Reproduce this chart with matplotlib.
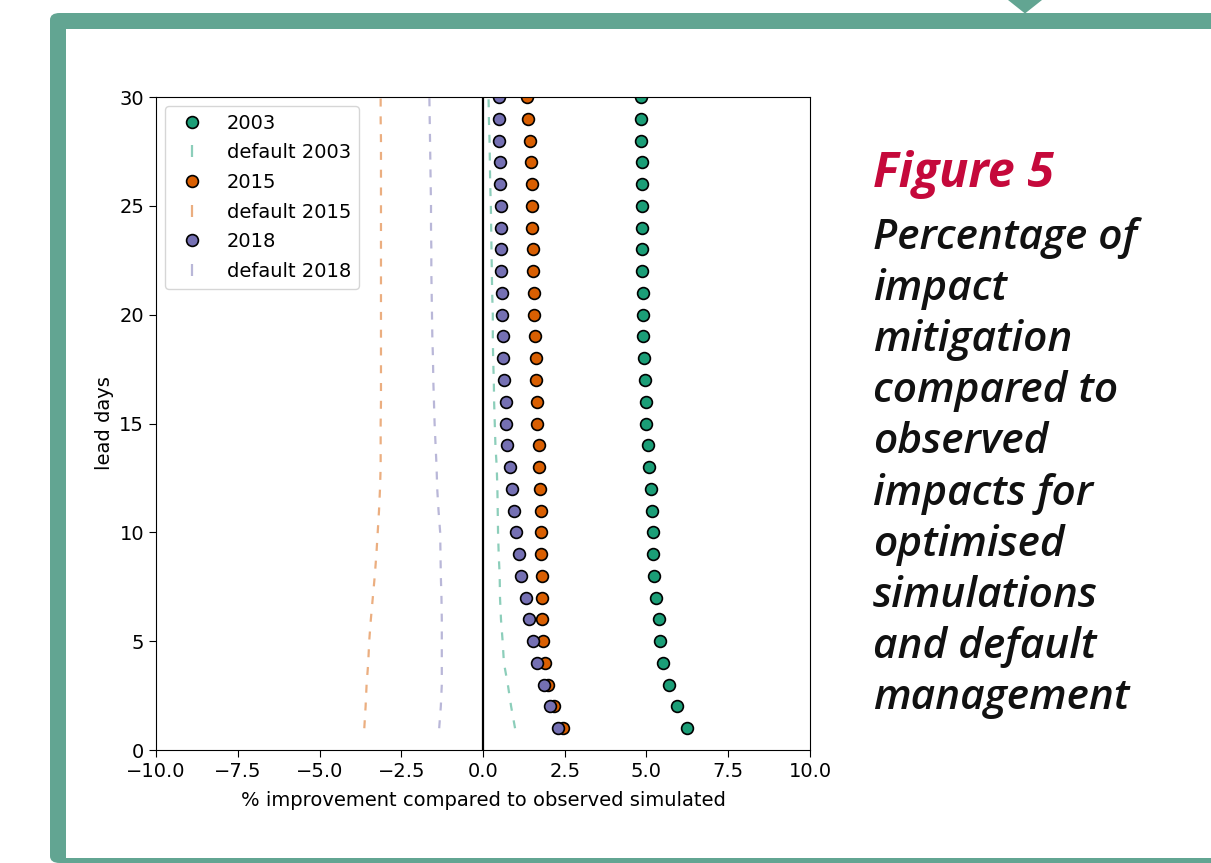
import matplotlib
matplotlib.use("Agg")
import matplotlib.pyplot as plt
from matplotlib.patches import FancyBboxPatch, Rectangle, Polygon
from matplotlib.lines import Line2D

# lead days and % improvement per year
days = list(range(1, 31))

opt_2003 = [6.23, 5.93, 5.70, 5.50, 5.41, 5.37, 5.29, 5.24, 5.21, 5.19,
            5.17, 5.15, 5.09, 5.04, 5.00, 4.98, 4.94, 4.93, 4.90, 4.90,
            4.88, 4.87, 4.87, 4.85, 4.85, 4.85, 4.85, 4.82, 4.83, 4.82]
opt_2015 = [2.45, 2.17, 1.99, 1.90, 1.83, 1.80, 1.80, 1.79, 1.78, 1.77,
            1.76, 1.74, 1.71, 1.70, 1.66, 1.64, 1.63, 1.61, 1.60, 1.56,
            1.56, 1.53, 1.52, 1.50, 1.50, 1.49, 1.47, 1.43, 1.38, 1.35]
opt_2018 = [2.29, 2.05, 1.87, 1.65, 1.53, 1.41, 1.31, 1.16, 1.10, 1.00,
            0.96, 0.88, 0.83, 0.74, 0.70, 0.69, 0.64, 0.62, 0.60, 0.58,
            0.58, 0.56, 0.55, 0.55, 0.55, 0.51, 0.51, 0.50, 0.50, 0.50]

def_2003 = [0.98, 0.86, 0.76, 0.64, 0.60, 0.55, 0.52, 0.51, 0.48, 0.46,
            0.45, 0.44, 0.42, 0.38, 0.36, 0.34, 0.33, 0.31, 0.30, 0.30,
            0.28, 0.27, 0.26, 0.25, 0.24, 0.22, 0.21, 0.20, 0.18, 0.17]
def_2015 = [-3.63, -3.59, -3.56, -3.51, -3.48, -3.43, -3.37, -3.31, -3.26, -3.22,
            -3.18, -3.15, -3.13, -3.13, -3.13, -3.12, -3.12, -3.12, -3.12, -3.12,
            -3.12, -3.12, -3.12, -3.12, -3.12, -3.12, -3.12, -3.12, -3.13, -3.13]
def_2018 = [-1.34, -1.29, -1.26, -1.26, -1.26, -1.26, -1.27, -1.29, -1.30, -1.31,
            -1.36, -1.40, -1.42, -1.45, -1.48, -1.50, -1.52, -1.53, -1.55, -1.56,
            -1.57, -1.58, -1.58, -1.59, -1.59, -1.60, -1.61, -1.62, -1.63, -1.64]

years = ["2003", "2015", "2018"]
colors = ["#1b9e77", "#d95f02", "#7570b3"]

W, H = 1211, 863
fig = plt.figure(figsize=(W / 100, H / 100), dpi=100)

def fx(px):
    return px / W

def fy(py):
    return 1 - py / H

# green frame around the figure (behind the axes)
frame_col = "#62a592"
fig.patches.append(FancyBboxPatch((fx(50), 0), fx(1300) - fx(50), fy(13),
                                  boxstyle="round,pad=0,rounding_size=0.008",
                                  transform=fig.transFigure, fc=frame_col, ec="none",
                                  zorder=-3))
fig.patches.append(Rectangle((fx(66), fy(858)), 1, fy(29) - fy(858),
                             transform=fig.transFigure, fc="white", ec="none", zorder=-2))
fig.patches.append(Polygon([(fx(1008), 1), (fx(1042), 1), (fx(1025), fy(13.5))],
                           closed=True, transform=fig.transFigure, fc=frame_col, ec="none",
                           zorder=-2))

ax = fig.add_axes([fx(156), fy(750), fx(810) - fx(156), fy(97) - fy(750)])

fs = 14
handles = []
labels = []
for yr, col, opt, dft in zip(years, colors, [opt_2003, opt_2015, opt_2018],
                             [def_2003, def_2015, def_2018]):
    ax.scatter(opt, days, s=72, color=col, edgecolor="black", linewidth=1.2)
    ax.plot(dft, days, color=col, alpha=0.5, lw=1.6, ls=(0, (3.6, 4.4)))
    handles.append(Line2D([], [], ls="none", marker="o", markersize=8.5,
                          markerfacecolor=col, markeredgecolor="black", markeredgewidth=1.2))
    labels.append(yr)
    handles.append(Line2D([], [], ls="none", marker="|", markersize=8,
                          markeredgewidth=1.6, color=col, alpha=0.5))
    labels.append("default " + yr)

ax.axvline(0, color="black", lw=1.6)
ax.set_xlim(-10, 10)
ax.set_ylim(0, 30)
ax.tick_params(labelsize=fs, length=5)
ax.set_xlabel("% improvement compared to observed simulated", fontsize=fs, labelpad=7)
ax.set_ylabel("lead days", fontsize=fs)
ax.legend(handles, labels, loc="upper left", fontsize=fs, borderaxespad=0.45,
          labelspacing=0.55)

fig.text(fx(873), fy(187), "Figure 5", fontsize=34.8, color="#c5093b",
         family="Open Sans", weight="bold", style="italic", va="baseline")
caption = ("Percentage of\nimpact\nmitigation\ncompared to\nobserved\n"
           "impacts for\noptimised\nsimulations\nand default\nmanagement")
fig.text(fx(873), fy(217), caption, fontsize=30.5, color="#111111",
         family="Open Sans", weight="semibold", style="italic", va="top",
         linespacing=1.285)

fig.savefig("out.png", dpi=100)
